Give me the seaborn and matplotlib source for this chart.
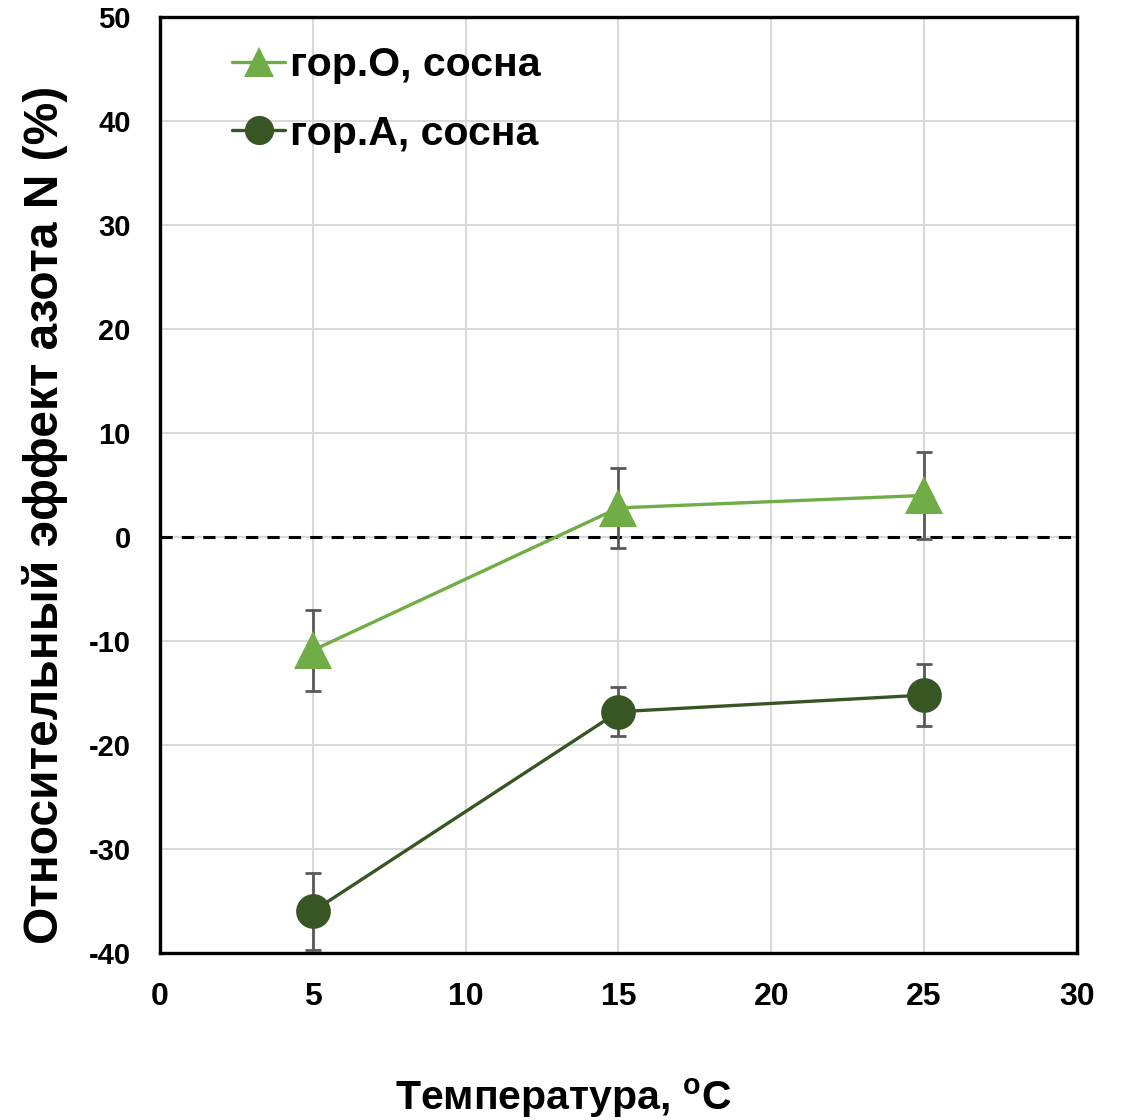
import numpy as np
import pandas as pd
import matplotlib
matplotlib.use("Agg")
import matplotlib.pyplot as plt
import seaborn as sns
from matplotlib.lines import Line2D

# ---- data ----
temperature = [5, 15, 25]
series_names = ["гор.О, сосна", "гор.А, сосна"]
effect_O = [-10.9, 2.8, 4.0]
err_O = [3.9, 3.85, 4.15]
effect_A = [-36.0, -16.8, -15.2]
err_A = [3.7, 2.35, 2.95]
x_ticks = [0, 5, 10, 15, 20, 25, 30]
y_ticks = [-40, -30, -20, -10, 0, 10, 20, 30, 40, 50]
x_label = "Температура, $\\mathbf{^{o}}$C"
y_label = "Относительный эффект азота N (%)"

colors = {"гор.О, сосна": "#70AD47", "гор.А, сосна": "#375623"}
markers = {"гор.О, сосна": "^", "гор.А, сосна": "o"}

df = pd.DataFrame({
    "T": temperature * 2,
    "effect": effect_O + effect_A,
    "err": err_O + err_A,
    "series": [series_names[0]] * 3 + [series_names[1]] * 3,
})

sns.set_style("whitegrid")
plt.rcParams["font.family"] = ["Liberation Sans", "DejaVu Sans"]
plt.rcParams["font.weight"] = "bold"
plt.rcParams["text.color"] = "black"
plt.rcParams["axes.labelcolor"] = "black"
plt.rcParams["xtick.color"] = "black"
plt.rcParams["ytick.color"] = "black"
plt.rcParams["axes.unicode_minus"] = False
plt.rcParams["mathtext.fontset"] = "custom"
plt.rcParams["mathtext.bf"] = "Liberation Sans:bold"
plt.rcParams["mathtext.rm"] = "Liberation Sans:bold"

fig = plt.figure(figsize=(11.21, 11.2), dpi=100)
ax = fig.add_axes([0.1427, 0.1491, 0.9607 - 0.1427, 0.9848 - 0.1491])

# error bars (behind markers)
for name in series_names:
    sub = df[df.series == name]
    ax.errorbar(sub["T"], sub["effect"], yerr=sub["err"], fmt="none",
                ecolor="#595959", elinewidth=2.0, capsize=6, capthick=2.0, zorder=3)

sns.lineplot(data=df, x="T", y="effect", hue="series", style="series",
             palette=colors, markers=markers, dashes=False, ax=ax,
             linewidth=2.4, markersize=25, markeredgewidth=0, zorder=4,
             legend=False)
for line in ax.lines:
    if line.get_marker() == "^":
        line.set_markersize(27)

ax.axhline(0, color="black", linestyle=(0, (4, 3)), linewidth=2.2, zorder=2)

ax.set_xlim(0, 30)
ax.set_ylim(-40, 50)
ax.set_xticks(x_ticks)
ax.set_yticks(y_ticks)
ax.tick_params(axis="x", labelsize=23, pad=21, length=0)
ax.tick_params(axis="y", labelsize=21, pad=21, length=0)
for lab in ax.get_xticklabels() + ax.get_yticklabels():
    lab.set_fontweight("bold")

ax.grid(True, color="#D9D9D9", linewidth=1.5)
for sp in ax.spines.values():
    sp.set_color("black")
    sp.set_linewidth(2.4)

ax.set_xlabel(x_label, fontsize=29.5, fontweight="bold")
ax.xaxis.set_label_coords(0.4395, -0.131)
ax.set_ylabel(y_label, fontsize=34.5, fontweight="bold")
ax.yaxis.set_label_coords(-0.1, 0.468)

handles = [Line2D([], [], color=colors[n], marker=markers[n], markersize=21,
                  linewidth=2.4, markeredgewidth=0) for n in series_names]
leg = ax.legend(handles, series_names, loc="upper left", frameon=False,
                prop={"size": 29.5, "weight": "bold"}, handlelength=1.3,
                handletextpad=0.12, labelspacing=0.75,
                bbox_to_anchor=(0.0785, 0.969), borderaxespad=0, borderpad=0)

fig.savefig("out.png", dpi=100)
